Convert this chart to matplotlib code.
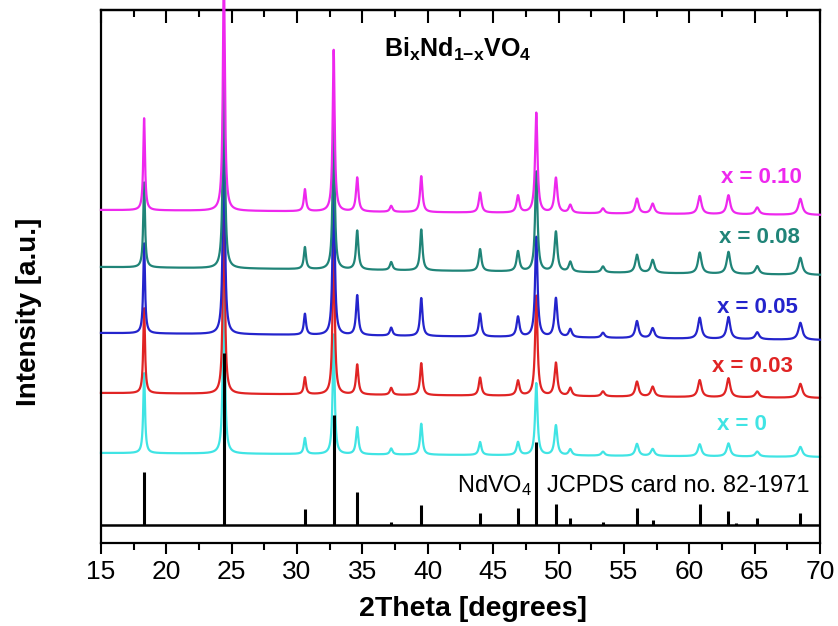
import matplotlib.pyplot as plt
import numpy as np
from matplotlib.ticker import MultipleLocator

plt.rcParams['font.family'] = ['Liberation Sans', 'DejaVu Sans']
plt.rcParams['mathtext.fontset'] = 'custom'
plt.rcParams['mathtext.rm'] = 'Liberation Sans'
plt.rcParams['mathtext.bf'] = 'Liberation Sans:bold'
plt.rcParams['mathtext.default'] = 'regular'

# NdVO4 reflections (2theta, deg) and peak widths (HWHM, deg)
peak_pos = [18.3, 24.4, 30.6, 32.8, 34.6, 37.2, 39.5, 44.0, 46.9, 48.3,
            49.8, 50.9, 53.4, 56.0, 57.2, 60.8, 63.0, 65.2, 68.5]
peak_hw = [0.08, 0.09, 0.10, 0.09, 0.11, 0.12, 0.11, 0.12, 0.13, 0.11,
           0.13, 0.14, 0.15, 0.15, 0.16, 0.16, 0.16, 0.17, 0.18]

# peak heights per sample (a.u.)
h_x000 = [80, 180, 16, 120, 27, 6, 31, 13, 13, 72, 30, 6, 4, 12, 7, 12, 13, 5, 10]
h_x003 = [85, 200, 17, 170, 30, 7, 32, 18, 15, 100, 33, 8, 5, 15, 10, 17, 19, 6, 14]
h_x005 = [90, 220, 21, 175, 40, 8, 38, 23, 20, 100, 39, 8, 5, 17, 10, 21, 22, 7, 17]
h_x008 = [85, 220, 22, 160, 39, 8, 41, 22, 20, 100, 40, 10, 6, 18, 13, 21, 22, 8, 17]
h_x010 = [92, 240, 22, 162, 34, 6, 36, 20, 17, 100, 35, 8, 5, 15, 10, 18, 19, 7, 16]

# background level at 15 and 70 deg
bg_x000 = [90, 86]
bg_x003 = [150, 145]
bg_x005 = [210, 203]
bg_x008 = [276, 268]
bg_x010 = [333, 328]

# reference pattern JCPDS 82-1971
ref_pos = [18.3, 24.4, 30.6, 32.8, 34.6, 37.2, 39.5, 44.0, 46.9, 48.3,
           49.8, 50.9, 53.4, 56.0, 57.2, 60.8, 63.0, 63.6, 65.2, 68.5]
ref_int = [53, 172, 16, 110, 33, 3, 20, 12, 17, 83,
           21, 7, 3, 17, 5, 21, 14, 2, 7, 12]
ref_base = 18

labels = ['x = 0', 'x = 0.03', 'x = 0.05', 'x = 0.08', 'x = 0.10']
colors = ['#40e4e4', '#e02424', '#2424cc', '#208478', '#ee28ee']

samples = [h_x000, h_x003, h_x005, h_x008, h_x010]
backgrounds = [bg_x000, bg_x003, bg_x005, bg_x008, bg_x010]

tt = np.linspace(15, 70, 6000)


def pattern(heights, bg):
    y = np.interp(tt, [15, 70], bg)
    for p, w, h in zip(peak_pos, peak_hw, heights):
        y = y + h * w**2 / ((tt - p)**2 + w**2)
    return y


fig = plt.figure(figsize=(8.38, 6.26), dpi=100)
ax = fig.add_axes([0.1205, 0.1326, 0.858, 0.8514])

for heights, bg, c, z in zip(samples, backgrounds, colors, [1, 2, 3, 4, 5]):
    ax.plot(tt, pattern(heights, bg), color=c, lw=1.6, zorder=z, clip_on=False)

ax.axhline(ref_base, color='black', lw=1.8, zorder=6)
ax.vlines(ref_pos, ref_base, [ref_base + v for v in ref_int], color='black', lw=2.2, zorder=6)

# sample labels
lab_x = [65.95, 67.9, 68.3, 68.47, 68.6]
lab_y = [113, 171, 230, 300, 360]
for t, c, lx, ly in zip(labels, colors, lab_x, lab_y):
    ax.text(lx, ly, t, color=c, fontsize=16, fontweight='bold', ha='right', va='baseline')

ax.text(42.3, 486, r'$\mathbf{Bi_{x}Nd_{1{-}x}VO_{4}}$', fontsize=18, ha='center', va='baseline')
ax.text(42.2, 51, r'NdVO$_4$', fontsize=17, ha='left', va='baseline')
ax.text(49.1, 51, 'JCPDS card no. 82-1971', fontsize=17, ha='left', va='baseline')

ax.set_xlim(15, 70)
ax.set_ylim(0, 533)
ax.set_yticks([])
ax.xaxis.set_major_locator(MultipleLocator(5))
ax.xaxis.set_minor_locator(MultipleLocator(2.5))
ax.tick_params(axis='x', which='major', direction='out', length=8, width=1.5, labelsize=19, pad=4)
ax.tick_params(axis='x', which='minor', direction='out', length=5, width=1.5)
for s in ax.spines.values():
    s.set_linewidth(1.6)

# inward ticks on the top edge
top = ax.secondary_xaxis('top')
top.xaxis.set_major_locator(MultipleLocator(5))
top.xaxis.set_minor_locator(MultipleLocator(2.5))
top.tick_params(which='major', direction='in', length=9, width=1.5, labeltop=False)
top.tick_params(which='minor', direction='in', length=5, width=1.5)
top.spines['top'].set_linewidth(1.6)

ax.set_xlabel('2Theta [degrees]', fontsize=20.5, fontweight='bold')
ax.xaxis.set_label_coords(0.517, -0.1)
ax.set_ylabel('Intensity [a.u.]', fontsize=20, fontweight='bold')
ax.yaxis.set_label_coords(-0.082, 0.433)

fig.savefig('out.png', dpi=100)
